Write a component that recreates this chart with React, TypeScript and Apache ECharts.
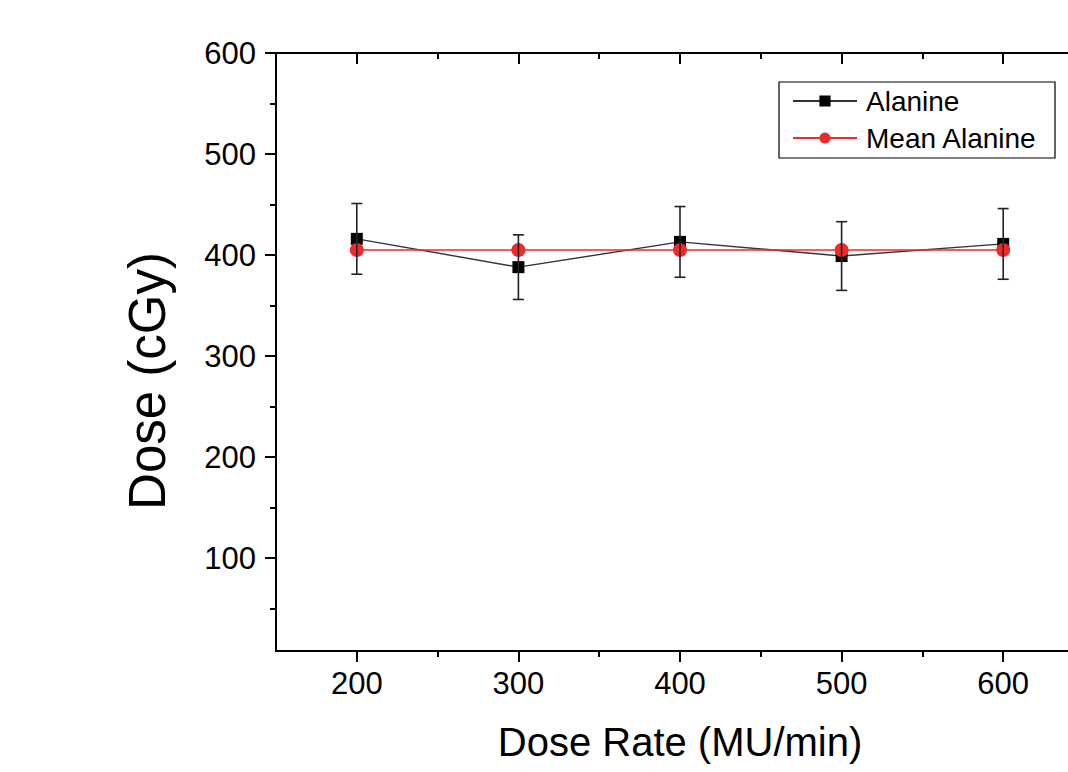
import React, { useEffect, useRef } from "react";
import * as echarts from "echarts";

const doseRates = [200, 300, 400, 500, 600];
const alanine = [416, 388, 413, 399, 411];
const alanineErr = [35, 32, 35, 34, 35];
const meanAlanine = [405, 405, 405, 405, 405];

const xMajor = [200, 300, 400, 500, 600];
const xMinor = [250, 350, 450, 550];
const yMajor = [100, 200, 300, 400, 500, 600];
const yMinor = [50, 150, 250, 350, 450, 550];

const FONT = "'Liberation Sans', Arial, sans-serif";
const X_MIN = 150;
const X_MAX = 650;
const Y_MIN = 8;
const Y_MAX = 600;

export default function App() {
  const ref = useRef<HTMLDivElement>(null);
  useEffect(() => {
    if (!ref.current) return;
    const chart = echarts.init(ref.current, null, { renderer: "svg" });
    const lineStyle = { color: "#000", width: 2 };
    const baseX = (pos: string, ticks: number[], len: number, inside: boolean, labels: boolean, extra: any = {}) => ({
      type: "value",
      position: pos,
      min: X_MIN,
      max: X_MAX,
      axisLine: { show: true, onZero: false, lineStyle },
      axisTick: { show: true, customValues: ticks, length: len, inside, lineStyle: { color: "#000", width: 2 } },
      axisLabel: labels
        ? { show: true, customValues: ticks, fontSize: 31, color: "#000", fontFamily: FONT, margin: 17 }
        : { show: false },
      splitLine: { show: false },
      ...extra,
    });
    const baseY = (ticks: number[], len: number, labels: boolean, extra: any = {}) => ({
      type: "value",
      position: "left",
      min: Y_MIN,
      max: Y_MAX,
      axisLine: { show: true, onZero: false, lineStyle },
      axisTick: { show: true, customValues: ticks, length: len, inside: false, lineStyle: { color: "#000", width: 2 } },
      axisLabel: labels
        ? { show: true, customValues: ticks, fontSize: 31, color: "#000", fontFamily: FONT, margin: 20 }
        : { show: false },
      splitLine: { show: false },
      ...extra,
    });

    const errData = doseRates.map((d, i) => [d, alanine[i] + alanineErr[i], alanine[i] - alanineErr[i]]);

    chart.setOption({
      animation: false,
      backgroundColor: "#fff",
      grid: { left: 276, top: 53, width: 808, height: 598, containLabel: false },
      xAxis: [
        baseX("bottom", xMajor, 11, false, true, {
          name: "Dose Rate (MU/min)",
          nameLocation: "middle",
          nameGap: 71,
          nameTextStyle: { fontSize: 40, color: "#000", fontFamily: FONT },
        }),
        baseX("bottom", xMinor, 6, false, false),
        baseX("top", xMajor, 11, true, false),
        baseX("top", xMinor, 6, true, false),
      ],
      yAxis: [
        baseY(yMajor, 11, true, {
          name: "Dose (cGy)",
          nameLocation: "middle",
          nameRotate: 90,
          nameGap: 103,
          nameTextStyle: { fontSize: 51, color: "#000", fontFamily: FONT, padding: [0, 58, 0, 0] },
        }),
        baseY(yMinor, 6, false),
      ],
      legend: {
        show: true,
        left: 792,
        top: 87,
        orient: "vertical",
        padding: 0,
        itemWidth: 64,
        itemHeight: 14,
        itemGap: 9,
        data: ["Alanine", "Mean Alanine"],
        textStyle: { fontSize: 28, color: "#000", fontFamily: FONT, lineHeight: 28, padding: [0, 0, 0, 4] },
      },
      graphic: [
        {
          type: "rect",
          shape: { x: 779, y: 82, width: 276, height: 76 },
          style: { fill: "none", stroke: "#000", lineWidth: 1.2 },
          z: 1,
        },
      ],
      series: [
        {
          name: "Alanine",
          type: "line",
          xAxisIndex: 0,
          yAxisIndex: 0,
          data: doseRates.map((d, i) => [d, alanine[i]]),
          symbol: "rect",
          symbolSize: 12,
          itemStyle: { color: "#000" },
          lineStyle: { color: "#333", width: 1.4 },
          z: 2,
        },
        {
          name: "Mean Alanine",
          type: "line",
          xAxisIndex: 0,
          yAxisIndex: 0,
          data: doseRates.map((d, i) => [d, meanAlanine[i]]),
          symbol: "circle",
          symbolSize: 14,
          itemStyle: { color: "#ee2a2a" },
          lineStyle: { color: "#ee2a2a", width: 1.5 },
          z: 3,
        },
        {
          name: "err",
          type: "custom",
          xAxisIndex: 0,
          yAxisIndex: 0,
          data: errData,
          encode: { x: 0, y: [1, 2] },
          z: 4,
          renderItem: (params: any, api: any) => {
            const x = api.value(0);
            const top = api.coord([x, api.value(1)]);
            const bot = api.coord([x, api.value(2)]);
            const hw = 5.5;
            const st = { stroke: "#222", lineWidth: 1.6 };
            return {
              type: "group",
              children: [
                { type: "line", shape: { x1: top[0], y1: top[1], x2: bot[0], y2: bot[1] }, style: st },
                { type: "line", shape: { x1: top[0] - hw, y1: top[1], x2: top[0] + hw, y2: top[1] }, style: st },
                { type: "line", shape: { x1: bot[0] - hw, y1: bot[1], x2: bot[0] + hw, y2: bot[1] }, style: st },
              ],
            };
          },
        },
      ],
    });
    return () => chart.dispose();
  }, []);
  return (
    <div style={{ position: "fixed", left: 0, top: 0, width: 1068, height: 772, overflow: "hidden", background: "#fff" }}>
      <div ref={ref} style={{ position: "absolute", left: 0, top: 0, width: 1110, height: 772 }} />
    </div>
  );
}
